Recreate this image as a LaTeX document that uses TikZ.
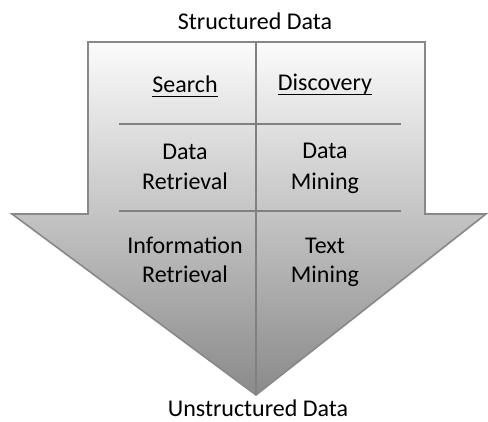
\documentclass[tikz,border=0pt]{standalone}
\usepackage{fontspec}
\setmainfont{Carlito}
\newcommand{\ulword}[1]{\setbox0\hbox{#1}\rlap{\rule[-4.6pt]{\wd0}{1.1pt}}\box0}
\begin{document}
\begin{tikzpicture}[x=1pt,y=-1pt,
  lbl/.style={anchor=base,font=\fontsize{24}{30}\selectfont,inner sep=0pt,text=black},
  edge/.style={draw={rgb,255:red,136;green,136;blue,136},line width=1.6pt},
  sep/.style={draw={rgb,255:red,128;green,128;blue,128},line width=1.3pt}]
\useasboundingbox (0,0) rectangle (488,421);
% arrow
\coordinate (tl) at (88,42);
\coordinate (tr) at (425,42);
\coordinate (sr) at (425,214);
\coordinate (wr) at (486,214);
\coordinate (tip) at (256,395);
\coordinate (wl) at (12,214);
\coordinate (sl) at (88,214);
\path[top color={rgb,255:red,251;green,251;blue,251},bottom color={rgb,255:red,138;green,138;blue,138}]
  (tl) -- (tr) -- (sr) -- (wr) -- (tip) -- (wl) -- (sl) -- cycle;
\draw[edge,line join=miter] (tl) -- (tr) -- (sr) -- (wr) -- (tip) -- (wl) -- (sl) -- cycle;
% separators
\coordinate (vt) at (256,42);
\coordinate (h1l) at (119,124);
\coordinate (h1r) at (401,124);
\coordinate (h2l) at (119,211);
\coordinate (h2r) at (401,211);
\draw[sep] (vt) -- (tip);
\draw[sep] (h1l) -- (h1r);
\draw[sep] (h2l) -- (h2r);
% labels
\node[lbl] (top) at (255,29) {Structured Data};
\node[lbl] (bot) at (258,416) {Unstructured Data};
\node[lbl] (search) at (185,92.5) {\ulword{Search}};
\node[lbl] (disc) at (325,90.5) {\ulword{Discovery}};
\node[lbl] (dr1) at (185,159) {Data};
\node[lbl] (dr2) at (185,189) {Retrieval};
\node[lbl] (dm1) at (325,158) {Data};
\node[lbl] (dm2) at (325,189) {Mining};
\node[lbl] (ir1) at (185,253) {Information};
\node[lbl] (ir2) at (185,282) {Retrieval};
\node[lbl] (tm1) at (325,253) {Text};
\node[lbl] (tm2) at (325,282) {Mining};
\end{tikzpicture}
\end{document}
